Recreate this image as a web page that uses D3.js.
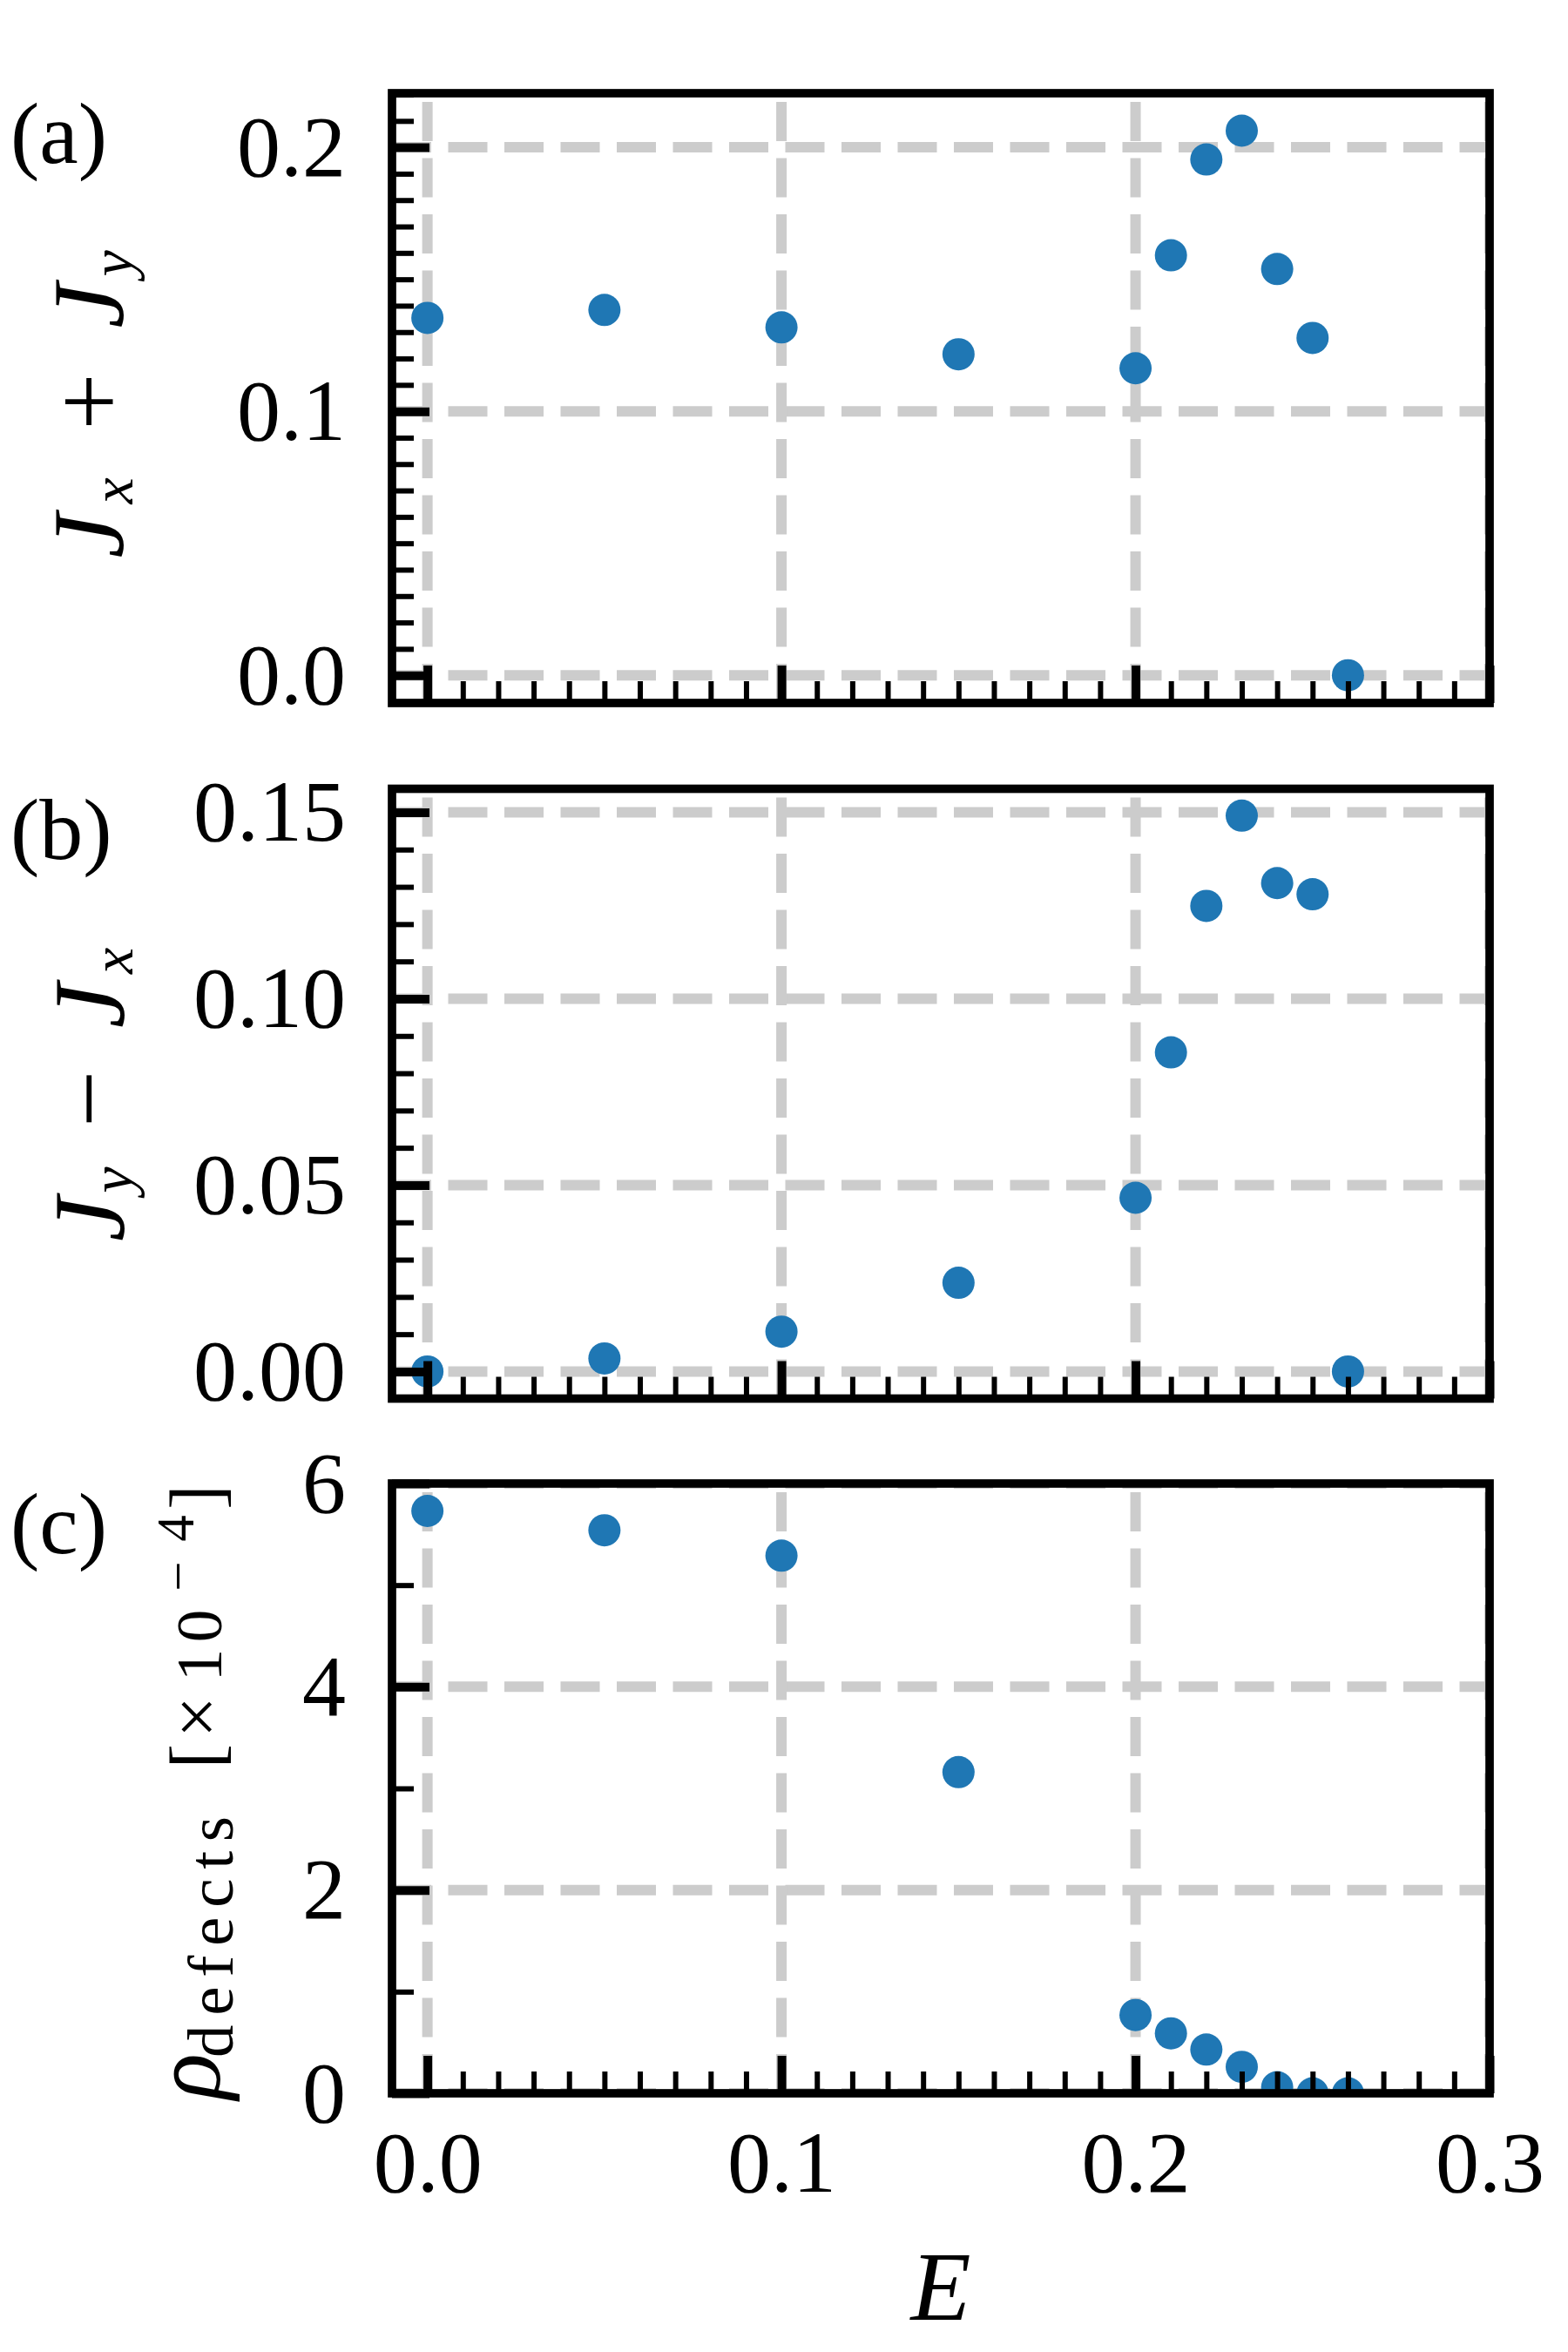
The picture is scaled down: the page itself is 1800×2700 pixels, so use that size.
<!DOCTYPE html>
<html>
<head>
<meta charset="utf-8">
<script src="https://cdn.jsdelivr.net/npm/d3@7"></script>
<style>
  body { margin: 0; background: #fff; }
  svg { display: block; font-family: "Liberation Serif", "DejaVu Serif", serif; }
</style>
</head>
<body>
<script>
// values
const fieldE = [0, 0.05, 0.1, 0.15, 0.2, 0.21, 0.22, 0.23, 0.24, 0.25, 0.26];
const currentSum = [0.1354, 0.1384, 0.1318, 0.1216, 0.1163, 0.1591, 0.1954, 0.2063, 0.1539, 0.1278, 0.0];
const currentDiff = [0.0, 0.0035, 0.0107, 0.0238, 0.0466, 0.0856, 0.1249, 0.1491, 0.1310, 0.1280, 0.0];
const defectDensity = [5.73, 5.54, 5.29, 3.16, 0.77, 0.59, 0.43, 0.26, 0.06, 0.0, 0.0]; // x 1e-4

// tick values / labels
const xTicks = [0, 0.1, 0.2, 0.3];
const xTickLabels = ["0.0", "0.1", "0.2", "0.3"];
const sumTicks = [0, 0.1, 0.2];
const sumTickLabels = ["0.0", "0.1", "0.2"];
const diffTicks = [0, 0.05, 0.1, 0.15];
const diffTickLabels = ["0.00", "0.05", "0.10", "0.15"];
const defectTicks = [0, 2, 4, 6];
const defectTickLabels = ["0", "2", "4", "6"];
const defectMinorTicks = [1, 3, 5];
const panelLetters = ["(a)", "(b)", "(c)"];

(() => {
  document.addEventListener("DOMContentLoaded", () => {
    const width = 1800;
    const height = 2700;
    const left = 450;
    const right = 1710;
    const panelTops = [107, 905.5, 1703];
    const panelH = 700;
    const blue = "#1f77b4";
    const font = "Liberation Serif, DejaVu Serif, serif";

    const svg = d3.select("body").append("svg")
      .attr("width", width)
      .attr("height", height)
      .attr("viewBox", `0 0 ${width} ${height}`);

    const x = d3.scaleLinear().domain([-0.01, 0.3]).range([left, right]);
    const xMinor = d3.range(-1, 30).map((i) => i / 100).filter((v) => Math.round(v * 100) % 10 !== 0);

    const hundredths = (lo, hi) => d3.range(lo, hi + 1).map((i) => i / 100);

    // one entry per panel, built from the arrays above
    const panels = [
      { values: currentSum, domain: [-0.0105, 0.2205], ticks: sumTicks, labels: sumTickLabels,
        minor: hundredths(-1, 22).filter((v) => Math.round(v * 100) % 10 !== 0) },
      { values: currentDiff, domain: [-0.00726, 0.1563], ticks: diffTicks, labels: diffTickLabels,
        minor: hundredths(0, 15).filter((v) => Math.round(v * 100) % 5 !== 0) },
      { values: defectDensity, domain: [0, 6], ticks: defectTicks, labels: defectTickLabels,
        minor: defectMinorTicks },
    ];

    // strip d3's default axis styling and set ours
    const styleAxis = (sel, strokeW) => {
      sel.attr("font-family", font).attr("font-size", 100);
      sel.select(".domain").remove();
      sel.selectAll(".tick line").attr("stroke", "#000").attr("stroke-width", strokeW);
      sel.selectAll(".tick text").attr("fill", "#000");
    };

    panels.forEach((p, i) => {
      const top = panelTops[i];
      const bottom = top + panelH;
      const y = d3.scaleLinear().domain(p.domain).range([bottom, top]);
      const g = svg.append("g");

      const clipId = `clip-${i}`;
      svg.append("clipPath").attr("id", clipId)
        .append("rect").attr("x", left).attr("y", top).attr("width", right - left).attr("height", panelH);

      // dashed grid
      const grid = g.append("g").attr("clip-path", `url(#${clipId})`)
        .attr("stroke", "#cccccc").attr("stroke-width", 12).attr("stroke-dasharray", "45 19.5");
      grid.selectAll(".hgrid").data(p.ticks).join("line")
        .attr("x1", left).attr("x2", right)
        .attr("y1", (d) => y(d)).attr("y2", (d) => y(d));
      grid.selectAll(".vgrid").data(xTicks).join("line")
        .attr("x1", (d) => x(d)).attr("x2", (d) => x(d))
        .attr("y1", bottom).attr("y2", top);

      // points
      g.append("g").attr("clip-path", `url(#${clipId})`)
        .selectAll("circle")
        .data(fieldE.map((e, k) => [e, p.values[k]]))
        .join("circle")
        .attr("cx", (d) => x(d[0]))
        .attr("cy", (d) => y(d[1]))
        .attr("r", 18.5)
        .attr("fill", blue);

      // minor ticks (inward)
      g.append("g").attr("transform", `translate(${left},0)`)
        .call(d3.axisLeft(y).tickValues(p.minor).tickSize(-25).tickFormat(""))
        .call((s) => styleAxis(s, 6));
      g.append("g").attr("transform", `translate(0,${bottom})`)
        .call(d3.axisBottom(x).tickValues(xMinor).tickSize(-25).tickFormat(""))
        .call((s) => styleAxis(s, 6));

      // major ticks with labels
      g.append("g").attr("transform", `translate(${left},0)`)
        .call(d3.axisLeft(y).tickValues(p.ticks).tickSize(-43).tickPadding(53)
          .tickFormat((d, k) => p.labels[k]))
        .call((s) => styleAxis(s, 10));
      g.append("g").attr("transform", `translate(0,${bottom})`)
        .call(d3.axisBottom(x).tickValues(xTicks).tickSize(-43).tickPadding(41.5)
          .tickFormat((d, k) => (i === 2 ? xTickLabels[k] : "")))
        .call((s) => styleAxis(s, 10));

      // frame
      g.append("rect")
        .attr("x", left).attr("y", top)
        .attr("width", right - left).attr("height", panelH)
        .attr("fill", "none").attr("stroke", "#000").attr("stroke-width", 9.7);

      // panel letter
      svg.append("text")
        .attr("x", 12).attr("y", top + 80)
        .attr("font-size", 100)
        .text(panelLetters[i]);
    });

    // rotated glyph helper: centred at cy along the reading direction, baseline at bx
    const vtext = (str, cy, bx, size, italic) => svg.append("text")
      .attr("transform", `translate(${bx},${cy}) rotate(-90)`)
      .attr("text-anchor", "middle")
      .attr("font-size", size)
      .attr("font-style", italic ? "italic" : "normal")
      .text(str);

    // (a) J_x + J_y
    vtext("J", 615, 141, 116, true);
    vtext("x", 563.5, 152, 68, true);
    vtext("+", 461, 141, 116, false);
    vtext("J", 351, 141, 116, true);
    vtext("y", 302.5, 152, 68, true);

    // (b) J_y − J_x
    vtext("J", 1399.5, 142, 116, true);
    vtext("y", 1354.7, 152, 68, true);
    vtext("\u2212", 1261.5, 141, 116, false);
    vtext("J", 1154.6, 142, 116, true);
    vtext("x", 1103, 152, 68, true);

    // (c) rho_defects [x10^-4]
    vtext("\u03c1", 2383.5, 252, 110, true);
    svg.append("text")
      .attr("transform", "translate(267,2362) rotate(-90)")
      .attr("font-size", 75)
      .attr("textLength", 277)
      .attr("lengthAdjust", "spacing")
      .text("defects");
    vtext("[", 2016, 254, 85, false);
    vtext("\u00d7", 1971, 254, 85, false);
    vtext("1", 1911.5, 254, 75, false);
    vtext("0", 1866.5, 254, 75, false);
    vtext("\u2212", 1809.5, 225, 61, false);
    vtext("4", 1754.5, 221.7, 61, false);
    vtext("]", 1718.5, 254, 85, false);

    // x label
    svg.append("text")
      .attr("x", (left + right) / 2).attr("y", 2663)
      .attr("text-anchor", "middle")
      .attr("font-size", 113)
      .attr("font-style", "italic")
      .text("E");
  });
})();
</script>
</body>
</html>
